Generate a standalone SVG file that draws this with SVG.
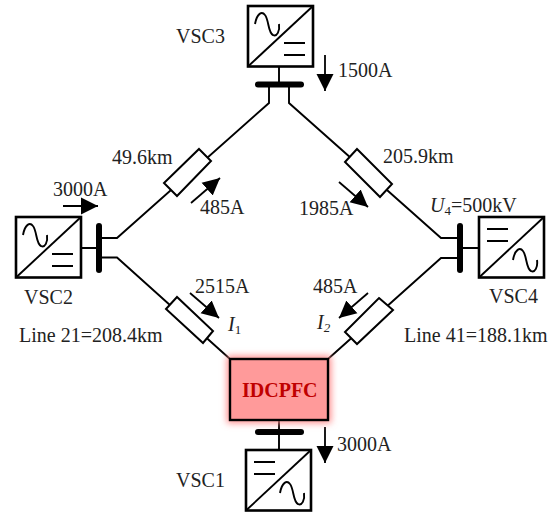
<svg xmlns="http://www.w3.org/2000/svg" width="559" height="514" viewBox="0 0 559 514">
<style>
text{font-family:"Liberation Serif","Times New Roman",serif;font-size:20px;fill:#222}
.l{fill:none;stroke:#000;stroke-width:1.9}
.box{fill:#fff;stroke:#000;stroke-width:2.6}
.bus{fill:none;stroke:#000;stroke-width:6;stroke-linecap:round}
.res{fill:#fff;stroke:#000;stroke-width:2}
.ar{fill:none;stroke:#000;stroke-width:1.8;marker-end:url(#h)}
.sub{font-size:13px}
.i{font-style:italic}
</style>
<defs>
<marker id="h" markerUnits="userSpaceOnUse" markerWidth="20" markerHeight="20" refX="17" refY="9" orient="auto"><path d="M0 0.500L17 9L0 17.500Z" fill="#000"/></marker>
<filter id="g" x="-25%" y="-25%" width="150%" height="150%"><feGaussianBlur stdDeviation="3.5"/></filter>
<g id="conv-tl"><rect class="box" x="0" y="0" width="65" height="60.5"/><path class="l" d="M0 60.5L65 0"/><path class="l" d="M7 18C9 7 14 5 17 9C21 14 20 27 25 29C29 31 32 25 31 18"/><path class="l" d="M36 37H57M36 49H57"/></g>
<g id="conv-br"><rect class="box" x="0" y="0" width="65" height="60.5"/><path class="l" d="M0 60.5L65 0"/><path class="l" d="M34 43C36 32 41 30 44 34C48 39 47 52 52 54C56 56 59 50 58 43"/><path class="l" d="M8 12H29M8 24H29"/></g>
</defs>
<g id="connectors">
<path class="l" d="M279 67V84M269 84V103L117 238H99M289 84V103L441 238H460M99 257.500H117L230 359M460 258H441L328 359M81 248H99M460 248H479M279 420V450"/>
<path class="res" d="M199 149L211 161L177 196L164 183Z"/>
<path class="res" d="M177 297L166 309L203 343L213 331Z"/>
<path class="res" d="M357 149L345 162L380 197L392 184Z"/>
<path class="res" d="M379 298L393 310L357 344L345 332Z"/>
<path class="ar" d="M63 206H98"/>
<path class="ar" d="M191 203L220 178"/>
<path class="ar" d="M190 293L219 318"/>
<path class="ar" d="M339 182L368 207"/>
<path class="ar" d="M368 293L339 318"/>
<path class="ar" d="M325 55V91"/>
<path class="ar" d="M325 427V463"/>
</g>
<g id="VSC3"><use href="#conv-tl" x="248" y="6"/><path class="bus" d="M258 84.500H301"/><text x="176" y="43">VSC3</text><text x="338" y="77">1500A</text></g>
<g id="VSC2"><use href="#conv-tl" x="16" y="217"/><path class="bus" d="M99 226V270"/><text x="24" y="304">VSC2</text><text x="53" y="196">3000A</text></g>
<g id="VSC4"><use href="#conv-br" x="479" y="217"/><path class="bus" d="M460 226V270"/><text x="489" y="303">VSC4</text><text x="430" y="212"><tspan class="i">U</tspan><tspan class="sub" dy="3">4</tspan><tspan dy="-3">=500kV</tspan></text></g>
<g id="VSC1"><use href="#conv-br" x="246" y="450"/><path class="bus" d="M258 432H301"/><text x="176" y="487">VSC1</text><text x="337" y="451">3000A</text></g>
<g id="IDCPFC"><rect x="227" y="356" width="104" height="67" fill="#ff8a8a" filter="url(#g)"/><rect x="230" y="359" width="98" height="61" fill="#ff9a9a" stroke="#000" stroke-width="2.400"/><text x="242" y="397" style="font-weight:bold;fill:#c00000;font-size:20px">IDCPFC</text></g>
<g id="labels">
<text x="112" y="164">49.6km</text>
<text x="383" y="163">205.9km</text>
<text x="200" y="214">485A</text>
<text x="299" y="215">1985A</text>
<text x="195" y="293">2515A</text>
<text x="313" y="293">485A</text>
<text x="228" y="331" class="i">I<tspan class="sub" dy="3" style="font-style:normal">1</tspan></text>
<text x="317" y="329" class="i">I<tspan class="sub" dy="3">2</tspan></text>
<text x="19" y="342">Line 21=208.4km</text>
<text x="404" y="342">Line 41=188.1km</text>
</g>
</svg>
